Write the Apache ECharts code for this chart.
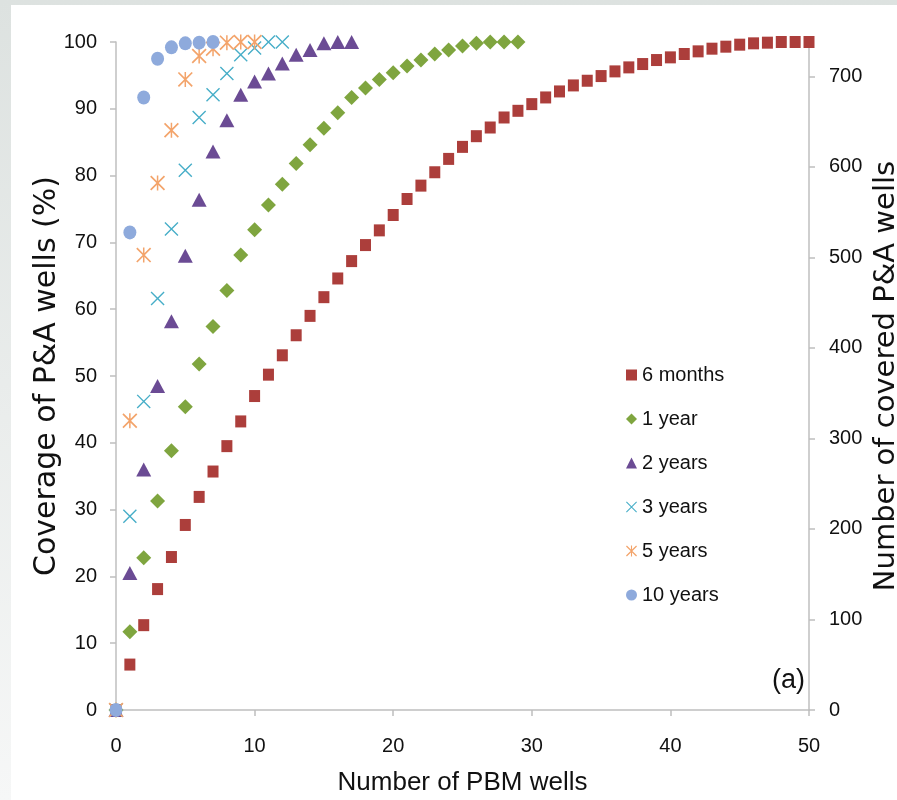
<!DOCTYPE html>
<html>
<head>
<meta charset="utf-8">
<script src="https://cdn.jsdelivr.net/npm/echarts@6/dist/echarts.min.js"></script>
<style>
  html, body { margin: 0; padding: 0; }
  body {
    width: 897px; height: 800px; overflow: hidden;
    background: linear-gradient(#dde2e0, #f6f7f7);
  }
  #chart {
    position: absolute; left: 11px; top: 5px;
    width: 886px; height: 795px; background: #fff;
  }
</style>
</head>
<body>
<div id="chart"></div>
<script>
// coverage (%) per number of PBM wells, index = number of wells
var months6 = [0, 6.8, 12.7, 18.1, 22.9, 27.7, 31.9, 35.7, 39.5, 43.2,
    47.0, 50.2, 53.1, 56.1, 59.0, 61.8, 64.6, 67.2, 69.6, 71.8,
    74.1, 76.5, 78.5, 80.5, 82.5, 84.3, 85.9, 87.2, 88.7, 89.7,
    90.7, 91.7, 92.6, 93.5, 94.2, 94.9, 95.6, 96.2, 96.7, 97.3,
    97.7, 98.2, 98.6, 99.0, 99.3, 99.6, 99.8, 99.9, 100, 100, 100];
var year1 = [0, 11.7, 22.8, 31.3, 38.8, 45.4, 51.8, 57.4, 62.8, 68.1,
    71.9, 75.6, 78.7, 81.8, 84.6, 87.1, 89.4, 91.7, 93.1, 94.4,
    95.4, 96.4, 97.3, 98.2, 98.8, 99.4, 99.8, 100, 100, 100];
var years2 = [0, 20.5, 36.0, 48.5, 58.2, 68.0, 76.4, 83.6, 88.3, 92.1,
    94.1, 95.3, 96.8, 98.1, 98.8, 99.8, 100, 100];
var years3 = [0, 29.0, 46.2, 61.6, 72.0, 80.8, 88.7, 92.1, 95.3, 98.1, 99.1, 100, 100];
var years5 = [0, 43.3, 68.1, 78.9, 86.8, 94.4, 97.9, 99.0, 99.9, 100, 100];
var years10 = [0, 71.5, 91.7, 97.5, 99.2, 99.8, 99.9, 100];

var rightTicks = [0, 100, 200, 300, 400, 500, 600, 700];
var totalWells = 738;

var seriesNames = ['6 months', '1 year', '2 years', '3 years', '5 years', '10 years'];
var seriesData = [months6, year1, years2, years3, years5, years10];
var colors = ['#ac3e3b', '#7fa53f', '#6b4b94', '#47aec8', '#f3a46b', '#8eaadc'];

var crossPath = 'path://M0,7L7,0L100,93L93,100ZM93,0L100,7L7,100L0,93Z';
var starPath = 'path://M0,8L8,0L100,92L92,100ZM92,0L100,8L8,100L0,92ZM45,0L55,0L55,100L45,100Z';
var symbols = ['rect', 'diamond', 'triangle', crossPath, starPath, 'circle'];
var sizes = [[11, 12], [15, 15], [15, 14], [14, 14], [15, 15], [13, 14]];

function toPoints(arr) {
    var pts = [];
    for (var i = 0; i < arr.length; i++) {
        pts.push([i, arr[i]]);
    }
    return pts;
}

var series = [];
for (var s = 0; s < seriesNames.length; s++) {
    series.push({
        name: seriesNames[s],
        type: 'scatter',
        data: toPoints(seriesData[s]),
        symbol: symbols[s],
        symbolSize: sizes[s],
        itemStyle: { color: colors[s], opacity: 1 },
        emphasis: { disabled: true }
    });
}

var axisColor = '#bfbfbf';
var labelFont = { fontFamily: 'Liberation Sans', fontSize: 20, color: '#111' };

var chart = echarts.init(document.getElementById('chart'));
chart.setOption({
    animation: false,
    color: colors,
    title: {
        text: '(a)',
        left: 756,
        top: 657,
        textStyle: { fontFamily: 'Liberation Sans', fontSize: 27, fontWeight: 'normal', color: '#111' }
    },
    legend: {
        orient: 'vertical',
        left: 610,
        top: 355,
        itemWidth: 11,
        itemHeight: 11,
        itemGap: 24,
        data: seriesNames,
        textStyle: { fontFamily: 'Liberation Sans', fontSize: 20, color: '#111', lineHeight: 20 }
    },
    grid: { left: 105, right: 88, top: 37, bottom: 90, outerBoundsMode: 'none', containLabel: false },
    xAxis: {
        type: 'value',
        min: 0,
        max: 50,
        interval: 10,
        name: 'Number of PBM wells',
        nameLocation: 'middle',
        nameGap: 60,
        nameTextStyle: { fontFamily: 'Liberation Sans', fontSize: 26, color: '#111' },
        axisLine: { show: true, lineStyle: { color: axisColor, width: 1.5 } },
        axisTick: { show: true, length: 6, lineStyle: { color: axisColor, width: 1.5 } },
        axisLabel: Object.assign({ margin: 26 }, labelFont),
        splitLine: { show: false }
    },
    yAxis: [{
        type: 'value',
        min: 0,
        max: 100,
        interval: 10,
        name: 'Coverage of P&A wells (%)',
        nameLocation: 'middle',
        nameGap: 54,
        nameMoveOverlap: false,
        nameTextStyle: { fontFamily: 'DejaVu Sans', fontSize: 30, color: '#111' },
        axisLine: { show: true, lineStyle: { color: axisColor, width: 1.5 } },
        axisTick: { show: true, length: 6, lineStyle: { color: axisColor, width: 1.5 } },
        axisLabel: Object.assign({ margin: 19 }, labelFont),
        splitLine: { show: false }
    }, {
        type: 'value',
        position: 'right',
        min: 0,
        max: totalWells,
        name: 'Number of covered P&A wells',
        nameLocation: 'middle',
        nameGap: 63,
        nameRotate: 90,
        nameMoveOverlap: false,
        nameTextStyle: { fontFamily: 'DejaVu Sans', fontSize: 29, color: '#111' },
        axisLine: { show: true, lineStyle: { color: axisColor, width: 1.5 } },
        axisTick: { show: true, length: 6, customValues: rightTicks, lineStyle: { color: axisColor, width: 1.5 } },
        axisLabel: Object.assign({ margin: 20, customValues: rightTicks }, labelFont),
        splitLine: { show: false }
    }],
    series: series
});
</script>
</body>
</html>
